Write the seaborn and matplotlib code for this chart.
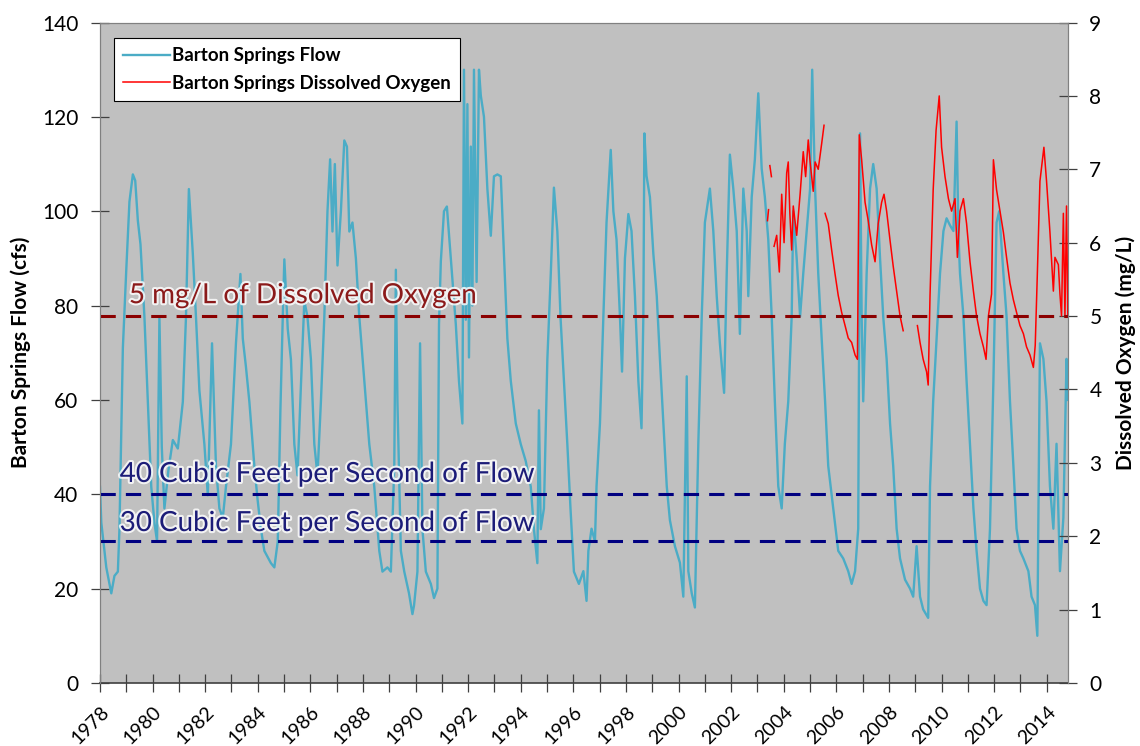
import numpy as np
import pandas as pd
import matplotlib
matplotlib.use("Agg")
import matplotlib.pyplot as plt
import matplotlib.patheffects as pe
from matplotlib.lines import Line2D
import seaborn as sns

# Barton Springs flow (cfs)
flow_year = [1978.0, 1978.05, 1978.24, 1978.43, 1978.55, 1978.68, 1978.74, 1978.87, 1979.0, 1979.12,
             1979.25, 1979.34, 1979.44, 1979.54, 1979.69, 1979.82, 1979.95, 1980.07, 1980.17, 1980.26,
             1980.35, 1980.45, 1980.6, 1980.77, 1980.96, 1981.15, 1981.27, 1981.38, 1981.53, 1981.65,
             1981.78, 1981.97, 1982.1, 1982.26, 1982.41, 1982.54, 1982.67, 1982.79, 1982.98, 1983.17,
             1983.34, 1983.43, 1983.55, 1983.68, 1983.87, 1983.99, 1984.12, 1984.25, 1984.5, 1984.63,
             1984.76, 1984.86, 1984.95, 1985.01, 1985.14, 1985.26, 1985.39, 1985.51, 1985.64, 1985.77,
             1985.89, 1986.02, 1986.15, 1986.27, 1986.4, 1986.53, 1986.65, 1986.75, 1986.84, 1986.93,
             1987.03, 1987.16, 1987.29, 1987.39, 1987.48, 1987.6, 1987.73, 1987.86, 1988.05, 1988.24,
             1988.43, 1988.62, 1988.74, 1988.93, 1989.06, 1989.19, 1989.25, 1989.31, 1989.44, 1989.57,
             1989.75, 1989.88, 1989.94, 1990.07, 1990.17, 1990.26, 1990.39, 1990.58, 1990.7, 1990.83,
             1990.89, 1990.96, 1991.08, 1991.19, 1991.34, 1991.53, 1991.65, 1991.78, 1991.84, 1991.91,
             1991.97, 1992.03, 1992.1, 1992.16, 1992.22, 1992.32, 1992.41, 1992.48, 1992.6, 1992.73,
             1992.86, 1992.98, 1993.11, 1993.24, 1993.36, 1993.49, 1993.62, 1993.81, 1994.0, 1994.19,
             1994.38, 1994.5, 1994.63, 1994.69, 1994.76, 1994.88, 1995.01, 1995.14, 1995.26, 1995.39,
             1995.51, 1995.64, 1995.77, 1995.89, 1996.02, 1996.21, 1996.38, 1996.5, 1996.57, 1996.69,
             1996.82, 1996.88, 1997.01, 1997.14, 1997.26, 1997.42, 1997.52, 1997.64, 1997.77, 1997.85,
             1997.96, 1998.09, 1998.21, 1998.34, 1998.47, 1998.59, 1998.66, 1998.7, 1998.78, 1998.91,
             1999.04, 1999.17, 1999.29, 1999.42, 1999.55, 1999.67, 1999.86, 2000.05, 2000.18, 2000.31,
             2000.37, 2000.5, 2000.62, 2000.75, 2000.88, 2001.0, 2001.19, 2001.32, 2001.45, 2001.57,
             2001.73, 2001.83, 2001.95, 2002.08, 2002.21, 2002.33, 2002.46, 2002.59, 2002.65, 2002.78,
             2002.9, 2003.03, 2003.16, 2003.28, 2003.41, 2003.54, 2003.66, 2003.79, 2003.92, 2004.04,
             2004.17, 2004.3, 2004.36, 2004.49, 2004.62, 2004.74, 2004.87, 2005.0, 2005.08, 2005.19,
             2005.31, 2005.44, 2005.57, 2005.69, 2005.88, 2006.07, 2006.26, 2006.45, 2006.58, 2006.71,
             2006.83, 2006.9, 2006.96, 2007.02, 2007.15, 2007.28, 2007.4, 2007.53, 2007.66, 2007.78,
             2007.91, 2008.04, 2008.16, 2008.29, 2008.42, 2008.61, 2008.8, 2008.92, 2009.05, 2009.18,
             2009.3, 2009.49, 2009.56, 2009.68, 2009.81, 2009.94, 2010.07, 2010.19, 2010.32, 2010.45,
             2010.57, 2010.64, 2010.7, 2010.83, 2010.95, 2011.08, 2011.21, 2011.33, 2011.46, 2011.59,
             2011.71, 2011.84, 2011.97, 2012.09, 2012.19, 2012.35, 2012.47, 2012.6, 2012.73, 2012.85,
             2012.98, 2013.11, 2013.3, 2013.42, 2013.55, 2013.64, 2013.69, 2013.74, 2013.87, 2013.99,
             2014.12, 2014.25, 2014.37, 2014.5, 2014.63, 2014.75, 2014.8]
flow_cfs = [41.6, 34, 24.5, 19, 22.7, 23.6, 32.6, 71, 87.6, 102,
            107.8, 106.5, 98, 93, 77.6, 59.6, 41.6, 34, 30, 77.6,
            50, 37, 45, 51.5, 49.7, 59.6, 77.6, 104.7, 91, 77.6,
            62, 50.6, 39.8, 72, 46, 37, 35, 41.6, 50.6, 72,
            86.7, 73, 67, 59.6, 46, 39, 32.6, 28, 25.4, 24.5,
            30, 57.8, 77.6, 89.8, 75, 68.6, 50.6, 44, 63, 81,
            77.6, 68.6, 50.6, 44, 59.6, 77.6, 100, 111, 95.7, 110,
            88.5, 100, 115, 113.7, 95.7, 97.6, 90, 77.6, 64, 50.6,
            41.6, 28, 23.6, 24.5, 23.6, 46, 87.6, 59.6, 28, 23.6,
            19, 14.6, 16.4, 23.6, 72, 32.6, 23.6, 21, 18, 20,
            76, 89.4, 100, 101, 90, 76, 64, 55, 130, 77,
            122.7, 69, 113.7, 80, 130, 85, 130, 124.5, 120, 104.7,
            94.8, 107.4, 107.8, 107.4, 91, 73, 64, 55, 50.6, 47,
            41.6, 32.6, 25.4, 57.8, 32.6, 37, 68.6, 86.7, 105, 95.7,
            77.6, 64, 50.6, 37, 23.6, 21, 23.7, 17.4, 28, 32.7,
            30, 41.7, 55, 77.7, 97.6, 113, 100, 94, 77.7, 66,
            90, 99.4, 95.8, 82, 64, 54, 77.7, 116.5, 107.5, 103,
            91, 82, 68.7, 55, 41.7, 34.5, 29, 25.5, 18.3, 65,
            23.7, 19, 16, 50.7, 77.7, 97.6, 104.8, 95.8, 82, 72,
            61.5, 86.8, 112, 104.8, 95.8, 74, 104.8, 95.8, 82, 103,
            111, 125, 109, 103, 94, 77.7, 59.7, 41.7, 37, 50.7,
            59.7, 77.7, 100, 90, 77.7, 86.8, 95.8, 104.8, 130, 104.8,
            86.8, 73, 59.7, 46, 37, 28, 26.4, 23.7, 21, 23.7,
            32.7, 116.5, 77.7, 59.7, 86.8, 104.8, 110, 104.8, 90, 77.7,
            68.7, 55, 46, 32.7, 26.4, 21.9, 20, 18.3, 29, 18.3,
            15.6, 13.8, 41.7, 59.7, 73, 86.8, 95.8, 98.5, 97, 95.8,
            119, 95, 86.8, 77.7, 64, 50.7, 37, 28, 20, 17.4,
            16.5, 32.7, 64, 97.6, 100, 86.8, 77.7, 59.7, 46, 32.7,
            28, 26.4, 23.7, 18.3, 16.5, 10, 40, 72, 68.7, 59.7,
            41.7, 32.7, 50.7, 23.7, 35, 68.7, 60]

# Dissolved oxygen (mg/L); do_seg marks the pieces between gaps in the record
do_year = [2003.38, 2003.42,
           2003.47, 2003.53,
           2003.63, 2003.73, 2003.83, 2003.92, 2004.01, 2004.11, 2004.17, 2004.23, 2004.3, 2004.36,
           2004.49, 2004.62, 2004.74, 2004.83, 2004.93, 2005.0, 2005.06, 2005.12, 2005.19, 2005.31,
           2005.44, 2005.53,
           2005.57, 2005.69, 2005.82, 2005.95, 2006.07, 2006.2, 2006.33, 2006.45, 2006.58, 2006.71,
           2006.8, 2006.87, 2006.96, 2007.09, 2007.21, 2007.34, 2007.47, 2007.59, 2007.72, 2007.81,
           2007.91, 2008.04, 2008.16, 2008.29, 2008.42, 2008.54,
           2009.08, 2009.18, 2009.3, 2009.43, 2009.49, 2009.56, 2009.68, 2009.79, 2009.91, 2010.0,
           2010.13, 2010.26, 2010.38, 2010.51, 2010.6, 2010.7, 2010.83, 2010.95, 2011.08, 2011.21,
           2011.33, 2011.46, 2011.59, 2011.69, 2011.78, 2011.9, 2011.97, 2012.09, 2012.22, 2012.35,
           2012.47, 2012.6, 2012.73, 2012.85, 2012.98, 2013.11, 2013.23, 2013.36, 2013.49, 2013.56,
           2013.64, 2013.74, 2013.89, 2013.99, 2014.12, 2014.25, 2014.31, 2014.44, 2014.5, 2014.56,
           2014.63, 2014.69, 2014.75, 2014.8]
do_mgl = [6.3, 6.45,
          7.05, 6.9,
          5.95, 6.1, 5.6, 6.66, 6.0, 6.95, 7.1, 6.4, 5.9, 6.5,
          6.1, 6.66, 7.24, 6.9, 7.4, 7.1, 6.9, 6.7, 7.1, 7.0,
          7.35, 7.6,
          6.4, 6.26, 5.9, 5.57, 5.28, 5.05, 4.87, 4.7, 4.64, 4.47,
          4.41, 7.47, 7.13, 6.55, 6.3, 5.97, 5.74, 6.26, 6.55, 6.66,
          6.43, 6.03, 5.68, 5.34, 5.0, 4.8,
          4.87, 4.64, 4.41, 4.24, 4.06, 5.28, 6.72, 7.53, 8.0, 7.3,
          6.9, 6.6, 6.43, 6.6, 5.8, 6.43, 6.6, 6.26, 5.74, 5.34,
          5.0, 4.76, 4.58, 4.41, 5.0, 5.3, 7.13, 6.72, 6.43, 6.14,
          5.8, 5.45, 5.22, 5.05, 4.87, 4.76, 4.58, 4.47, 4.3, 4.6,
          5.57, 6.84, 7.3, 6.84, 6.14, 5.34, 5.8, 5.7, 5.3, 5.0,
          6.4, 5.0, 6.5, 5.0]
do_seg = [1] * 2 + [2] * 2 + [3] * 22 + [4] * 26 + [5] * 54

year_ticks = list(range(1978, 2015))
flow_ticks = [0, 20, 40, 60, 80, 100, 120, 140]
do_ticks = [0, 1, 2, 3, 4, 5, 6, 7, 8, 9]

flow_df = pd.DataFrame({"year": flow_year, "flow": flow_cfs})
do_df = pd.DataFrame({"year": do_year, "do": do_mgl, "seg": do_seg})

plt.rcParams['font.family'] = ['Lato', 'DejaVu Sans']

fig = plt.figure(figsize=(11.4, 7.46), dpi=100)
ax = fig.add_axes([0.0877, 0.0845, 0.849, 0.8853])
ax.set_facecolor("#c0c0c0")

sns.lineplot(data=flow_df, x="year", y="flow", ax=ax, color="#4bacc6", linewidth=1.7,
             estimator=None, sort=False)
ax.set_xlim(1978, 2014.8)
ax.set_ylim(0, 140)
ax.set_yticks(flow_ticks)
ax.set_xticks(year_ticks)
ax.set_xticklabels([str(y) if y % 2 == 0 else "" for y in year_ticks], rotation=45,
                   ha="right", rotation_mode="anchor", fontsize=14)
ax.tick_params(axis="both", direction="inout", length=13, width=0.9, color="#404040")
ax.tick_params(axis="y", labelsize=15, pad=9)
ax.tick_params(axis="x", pad=8)
ax.set_xlabel("")
ax.set_ylabel("Barton Springs Flow (cfs)", fontsize=15, fontweight="bold", labelpad=8)
for s in ax.spines.values():
    s.set_color("#808080")
ax.spines["bottom"].set_color("#404040")
ax.spines["bottom"].set_linewidth(1.2)

ax2 = ax.twinx()
sns.lineplot(data=do_df, x="year", y="do", units="seg", estimator=None, ax=ax2,
             color="#ff0000", linewidth=1.1, sort=False)
ax2.set_ylim(0, 9)
ax2.set_xlim(1978, 2014.8)
ax2.set_yticks(do_ticks)
ax2.tick_params(axis="y", direction="inout", length=13, width=0.9, color="#404040",
                labelsize=15, pad=9)
ax2.set_ylabel("Dissolved Oxygen (mg/L)", fontsize=15, fontweight="bold", labelpad=10)
for s in ax2.spines.values():
    s.set_color("#808080")
ax2.spines["bottom"].set_visible(False)

# threshold lines
dash = (5, 3.3)
ax2.axhline(5, color="#8b0000", linewidth=2.2, linestyle=(0, dash))
ax2.axhline(40 * 9 / 140, color="#000080", linewidth=2.2, linestyle=(0, dash))
ax2.axhline(30 * 9 / 140, color="#000080", linewidth=2.2, linestyle=(0, dash))

glow = [pe.withStroke(linewidth=3, foreground="white", alpha=0.8)]
ax2.text(1979.1, 82.2 * 9 / 140, "5 mg/L of Dissolved Oxygen", color="#8b1a1a", fontsize=20,
         path_effects=glow, va="center")
ax2.text(1978.75, 44.3 * 9 / 140, "40 Cubic Feet per Second of Flow", color="#1c1c78",
         fontsize=20, path_effects=glow, va="center")
ax2.text(1978.75, 33.9 * 9 / 140, "30 Cubic Feet per Second of Flow", color="#1c1c78",
         fontsize=20, path_effects=glow, va="center")

handles = [Line2D([], [], color="#4bacc6", linewidth=1.7),
           Line2D([], [], color="#ff0000", linewidth=1.1)]
leg = ax2.legend(handles, ["Barton Springs Flow", "Barton Springs Dissolved Oxygen"],
                 loc="upper left", bbox_to_anchor=(0.0145, 0.9766), borderaxespad=0,
                 fancybox=False, framealpha=1, edgecolor="black",
                 prop={"weight": "bold", "size": 13.5},
                 handlelength=2.5, handletextpad=0.1, borderpad=0.5, labelspacing=0.55)
leg.get_frame().set_linewidth(0.8)

fig.savefig("out.png", dpi=100)
